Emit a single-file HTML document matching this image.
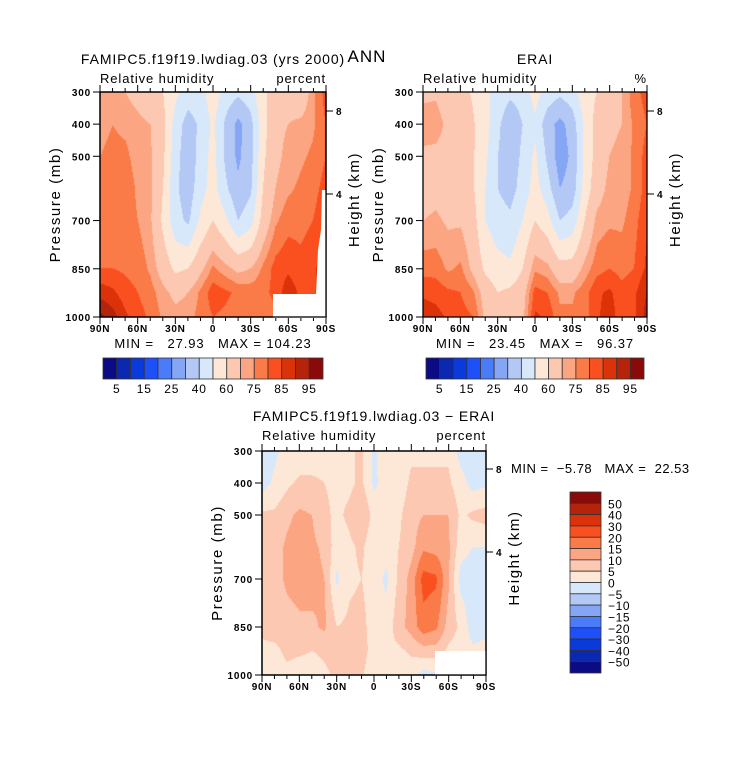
<!DOCTYPE html>
<html><head><meta charset="utf-8">
<style>
body{margin:0;background:#fff;}
#root{position:relative;width:733px;height:770px;overflow:hidden;font-family:"Liberation Sans",sans-serif;}
canvas{position:absolute;}
svg{position:absolute;left:0;top:0;}
svg text{white-space:pre;}
</style></head>
<body>
<div id="root">
<canvas id="c1" width="226" height="225" style="left:100px;top:92px"></canvas>
<canvas id="c2" width="224" height="225" style="left:423px;top:92px"></canvas>
<canvas id="c3" width="224" height="224" style="left:262px;top:451px"></canvas>
<svg id="sv" width="733" height="770"></svg>
</div>
<script>
// ---- data ----
const lats = [90,80,70,60,50,40,30,20,10,0,-10,-20,-30,-40,-50,-60,-70,-80,-90];
const plevs = [1000,925,850,700,600,500,400,300];
const latLabels = ["90N","60N","30N","0","30S","60S","90S"];
const pLabels = [300,400,500,700,850,1000];
const rhLevels = [5,10,15,20,25,30,40,50,60,70,75,80,85,90,95];
const rhLabels = ["5","15","25","40","60","75","85","95"];
const diffLevels = [-50,-40,-30,-20,-15,-10,-5,0,5,10,15,20,30,40,50];
const diffLabels = ["50","40","30","20","15","10","5","0","\u22125","\u221210","\u221215","\u221220","\u221230","\u221240","\u221250"];
const colors = ["#0b0b86","#0a28b0","#0a3ada","#1e50fa","#4a7cfa","#84a6f5","#b4c8f6","#d8e8fb","#fde8d8","#fcc8b2","#fca582","#fa7a48","#fa5020","#dc320a","#b4230a","#8a0a0a"];
// model RH rows per latitude: [1000,925,850,700,600,500,400,300]
const modelRH = [
[96,88,80,77,75,75,74,70],[92,86,80,77,76,76,75,72],[86,82,79,77,78,76,74,70],[82,80,78,75,74,73,72,67],
[79,77,74,71,71,71,70,63],[74,72,66,58,60,62,63,60],[72,68,58,44,42,44,46,52],[73,70,60,38,34,33,35,46],
[77,76,68,52,46,44,42,46],[80,83,76,60,54,54,52,56],[79,81,72,52,42,38,38,46],[77,79,68,40,32,28,27,42],
[76,78,70,46,38,36,36,46],[76,78,76,64,60,58,56,58],[78,82,82,74,70,68,68,64],[82,88,84,78,74,72,70,66],
[82,84,82,78,76,74,72,62],[84,84,84,80,78,76,74,74],[88,88,88,84,82,80,80,82]];
const eraiRH = [
[88,84,78,70,67,68,74,68],[87,83,78,71,68,68,73,69],[84,81,74,69,67,67,68,65],[82,80,76,69,65,65,65,63],
[80,76,68,64,61,61,61,59],[68,66,58,50,50,52,54,52],[62,60,54,44,40,40,42,46],[64,62,52,42,36,34,33,42],
[68,66,60,50,44,42,40,44],[86,82,74,60,54,52,48,54],[84,80,72,54,44,38,34,46],[76,74,64,40,30,25,27,42],
[76,74,64,44,34,32,34,46],[78,78,72,60,54,52,52,56],[84,84,78,72,66,64,64,60],[88,86,80,74,72,70,68,66],
[82,82,78,74,72,72,70,70],[84,84,80,78,76,76,76,78],[92,90,86,84,82,82,80,82]];
const diffRH = [
[3,4,6,6,6,6,-2,-2],[3,4,7,8,8,6,1,-1],[4,6,8,11,11,9,4,2],[2,6,9,12,12,11,6,2],
[2,5,9,12,11,10,6,2],[4,6,11,10,9,6,5,3],[6,7,5,-1,2,4,4,4],[6,6,6,4,4,6,4,4],
[6,8,7,5,6,10,6,6],[0,2,2,2,1,3,-1,-1],[2,4,2,-1,2,2,2,4],[2,4,8,6,5,4,2,2],
[2,6,12,12,8,8,6,4],[-2,8,18,22,14,10,6,4],[-1,8,16,21,13,10,6,4],[0,4,8,11,11,10,6,4],
[0,2,4,-2,2,4,2,-2],[0,1,-3,-3,0,6,-2,-3],[2,2,-2,-2,0,7,-1,-3]];

function hex(c){return [parseInt(c.slice(1,3),16),parseInt(c.slice(3,5),16),parseInt(c.slice(5,7),16)];}
const rgb = colors.map(hex);
function sample(grid,lat,p){
  let fi=(90-lat)/10; let i0=Math.min(Math.floor(fi),17); let fx=fi-i0;
  let j0=0; while(j0<plevs.length-2 && p<plevs[j0+1]) j0++;
  let fy=(plevs[j0]-p)/(plevs[j0]-plevs[j0+1]); fy=Math.max(0,Math.min(1,fy));
  const a=grid[i0][j0],b=grid[i0+1][j0],c=grid[i0][j0+1],d=grid[i0+1][j0+1];
  return (a*(1-fx)+b*fx)*(1-fy)+(c*(1-fx)+d*fx)*fy;
}
function fill(id,grid,levels){
  const cv=document.getElementById(id),ctx=cv.getContext('2d');
  const W=cv.width,H=cv.height,img=ctx.createImageData(W,H);
  for(let y=0;y<H;y++)for(let x=0;x<W;x++){
    const lat=90-180*x/(W-1), p=300+700*y/(H-1);
    const v=sample(grid,lat,p); let k=0; while(k<levels.length&&v>=levels[k])k++;
    const c=rgb[k],o=(y*W+x)*4; img.data[o]=c[0];img.data[o+1]=c[1];img.data[o+2]=c[2];img.data[o+3]=255;
  }
  ctx.putImageData(img,0,0);
}
fill('c1',modelRH,rhLevels);fill('c2',eraiRH,rhLevels);fill('c3',diffRH,diffLevels);

const NS="http://www.w3.org/2000/svg", sv=document.getElementById('sv');
function el(tag,at,txt){const e=document.createElementNS(NS,tag);for(const k in at)e.setAttribute(k,at[k]);if(txt!==undefined)e.textContent=txt;sv.appendChild(e);return e;}
function txt(x,y,s,size,anchor,name,extra){const t=el('text',Object.assign({x:x,y:y,'font-size':size,'text-anchor':anchor||'start',fill:'#000'},extra||{}),s);


return t;}

function panel(x0,y0,w,h,title,units,titleY,h8,h4,pfx){
  txt(x0+w/2,titleY,title,14,'middle',pfx+'-title',{'letter-spacing':0.9});
  txt(x0,titleY+19,"Relative humidity",13,'start',pfx+'-variable-label',{'letter-spacing':0.9});
  txt(x0+w,titleY+19,units,13,'end',pfx+'-units-label',{'letter-spacing':0.9});
  const fr=el('rect',{x:x0,y:y0,width:w,height:h,fill:'none',stroke:'#000','stroke-width':1.3});
  
  
  for(let i=0;i<=18;i++){const x=x0+w*i/18;const L=(i%3==0)?7:4;
    el('line',{x1:x,x2:x,y1:y0,y2:y0-L,stroke:'#000'});el('line',{x1:x,x2:x,y1:y0+h,y2:y0+h+L,stroke:'#000'});}
  latLabels.forEach((s,i)=>{txt(x0+w*i/6,y0+h+15,s,10,'middle',pfx+'-x-tick-label',{'font-weight':'bold','letter-spacing':0.7});});
  pLabels.forEach(p=>{const y=y0+h*(p-300)/700;el('line',{x1:x0-7,x2:x0,y1:y,y2:y,stroke:'#000'});
    txt(x0-9,y+4,String(p),10,'end',pfx+'-y-tick-label',{'font-weight':'bold','letter-spacing':0.8});});
  [[8,h8],[4,h4]].forEach(a=>{el('line',{x1:x0+w,x2:x0+w+7,y1:a[1],y2:a[1],stroke:'#000'});
    txt(x0+w+10,a[1]+4,String(a[0]),10,'start',pfx+'-height-tick-label',{'font-weight':'bold'});});
  txt(0,0,"Pressure (mb)",15,'middle',pfx+'-y-axis-title',{'letter-spacing':1.6,transform:`translate(${x0-40},${y0+h/2}) rotate(-90)`});
  txt(0,0,"Height (km)",15,'middle',pfx+'-height-axis-title',{'letter-spacing':1.6,transform:`translate(${x0+w+33},${y0+h/2-5}) rotate(-90)`});
}
function hbar(x0,y0,w,h,pfx){
  for(let i=0;i<16;i++){const r=el('rect',{x:x0+w*i/16,y:y0,width:w/16,height:h,fill:colors[i],stroke:'#333','stroke-width':0.8});
    
    }
  rhLabels.forEach((s,k)=>{txt(x0+w*(2*k+1)/16,y0+h+14,s,12,'middle',pfx+'-colorbar-label',{'letter-spacing':0.8});});
}
txt(367,62,"ANN",17,'middle','figure-title',{'letter-spacing':1});
panel(100,92,226,225,"FAMIPC5.f19f19.lwdiag.03 (yrs 2000)","percent",64,111,194,'model');
el('rect',{x:273,y:294,width:53,height:24,fill:'#fff'});
el('path',{d:"M322,190 L326,190 L326,294 L316,294 L318,250 L321,230 Z",fill:'#fff'});
el('rect',{x:100,y:92,width:226,height:225,fill:'none',stroke:'#000','stroke-width':1.3});
txt(213,348,"MIN =   27.93   MAX = 104.23",13,'middle','model-min-max',{'letter-spacing':0.9});
hbar(103,358,220,21,'model');
panel(423,92,224,225,"ERAI","%",64,111,194,'erai');
txt(535,348,"MIN =   23.45   MAX =   96.37",13,'middle','erai-min-max',{'letter-spacing':0.9});
hbar(426,358,218,21,'erai');
panel(262,451,224,224,"FAMIPC5.f19f19.lwdiag.03 \u2212 ERAI","percent",421,469,552,'diff');
el('rect',{x:435,y:651,width:51,height:24,fill:'#fff'});
el('rect',{x:262,y:451,width:224,height:224,fill:'none',stroke:'#000','stroke-width':1.3});
txt(511,473,"MIN =  \u22125.78   MAX =  22.53",13,'start','diff-min-max',{'letter-spacing':0.5});
for(let i=0;i<16;i++){const r=el('rect',{x:570,y:492+181*i/16,width:31,height:181/16,fill:colors[15-i],stroke:'#333','stroke-width':0.8});
  
  }
diffLabels.forEach((s,k)=>{txt(608,492+181*(k+1)/16+5,s,12,'start','diff-colorbar-label',{'letter-spacing':0.6});});
</script>
</body></html>
